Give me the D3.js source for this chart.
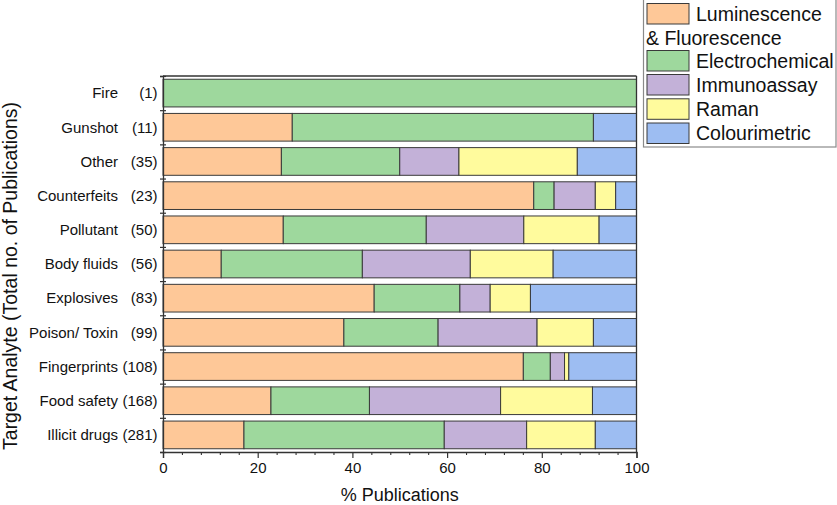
<!DOCTYPE html>
<html><head><meta charset="utf-8">
<script src="https://cdn.jsdelivr.net/npm/d3@7"></script>
<style>
html,body{margin:0;padding:0;background:#fff;}
svg{display:block;font-family:"Liberation Sans",Arial,sans-serif;}
</style></head>
<body>
<svg id="c" width="837" height="505"></svg>
<script>
const categories = ["Fire","Gunshot","Other","Counterfeits","Pollutant","Body fluids","Explosives","Poison/ Toxin","Fingerprints","Food safety","Illicit drugs"];
const totals = [1,11,35,23,50,56,83,99,108,168,281];
const luminescence   = [0,27.3,25.0,78.3,25.4,12.3,44.6,38.2,76.1,22.8,17.1];
const electrochemical= [100,63.6,25.0,4.3,30.2,29.8,18.1,19.9,5.7,20.8,42.3];
const immunoassay    = [0,0,12.5,8.7,20.6,22.8,6.4,20.9,3.0,27.7,17.4];
const raman          = [0,0,25.0,4.3,15.9,17.5,8.5,11.9,0.9,19.4,14.5];
const colourimetric  = [0,9.1,12.5,4.4,7.9,17.6,22.4,9.1,14.3,9.3,8.7];
const seriesKeys = ["lum","elec","imm","ram","col"];
const seriesNames = [["Luminescence","& Fluorescence"],["Electrochemical"],["Immunoassay"],["Raman"],["Colourimetric"]];
const colors = ["#FEC898","#9ED89D","#C3B1D8","#FFFB9D","#9DBDF2"];
const xTicks = [0,20,40,60,80,100];

const rows = categories.map((c,i)=>({cat:c, lum:luminescence[i], elec:electrochemical[i], imm:immunoassay[i], ram:raman[i], col:colourimetric[i]}));

const svg = d3.select("#c");
const L=163, R=636.5, T=76, B=452;
const x = d3.scaleLinear().domain([0,100]).range([L,R]);
const pad=0.19;
const y = d3.scaleBand().domain(categories).range([T,B]).paddingInner(pad).paddingOuter(pad/2);
const yb = d3.scaleLinear().domain([0,categories.length]).range([T,B]);

const stack = d3.stack().keys(seriesKeys)(rows);
const g = svg.append("g");
stack.forEach((s,si)=>{
  g.selectAll(null).data(s.filter(d=>d[1]-d[0]>0)).join("rect")
    .attr("x",d=>x(d[0])).attr("width",d=>x(d[1])-x(d[0]))
    .attr("y",d=>y(d.data.cat)).attr("height",y.bandwidth())
    .attr("fill",colors[si]).attr("stroke","#3a3a3a").attr("stroke-width",1);
});

// frame
svg.append("line").attr("x1",L).attr("x2",R).attr("y1",T).attr("y2",T).attr("stroke","#333").attr("stroke-width",1.3);
svg.append("line").attr("x1",R).attr("x2",R).attr("y1",T).attr("y2",B).attr("stroke","#333").attr("stroke-width",1.3);

// x axis
const xa = svg.append("g").attr("transform",`translate(0,${B})`)
  .call(d3.axisBottom(x).tickValues(xTicks).tickSize(6).tickPadding(4).tickFormat(d3.format("d")));
xa.select(".domain").attr("stroke","#333").attr("stroke-width",1.3);
xa.selectAll(".tick line").attr("stroke","#333").attr("stroke-width",1.2);
xa.selectAll("text").attr("font-size",15).attr("fill","#111").attr("font-family","Liberation Sans, Arial, sans-serif");
const xm = svg.append("g").attr("transform",`translate(0,${B})`)
  .call(d3.axisBottom(x).tickValues(d3.range(0,101,4).filter(v=>v%20!==0)).tickSize(3).tickFormat(""));
xm.select(".domain").remove();
xm.selectAll(".tick line").attr("stroke","#333").attr("stroke-width",1.1);

// y axis
const ya = svg.append("g").attr("transform",`translate(${L},0)`)
  .call(d3.axisLeft(yb).tickValues(d3.range(0,categories.length+1)).tickSize(3).tickFormat(""));
ya.select(".domain").attr("stroke","#333").attr("stroke-width",1.3);
ya.selectAll(".tick line").attr("x1",-3).attr("x2",3).attr("stroke","#333").attr("stroke-width",1.2);

// category labels
svg.append("g").selectAll("text").data(categories).join("text")
  .attr("x",118).attr("y",d=>y(d)+y.bandwidth()/2).attr("dy","0.35em")
  .attr("text-anchor","end").attr("font-size",15).attr("fill","#111").text(d=>d);
svg.append("g").selectAll("text").data(totals).join("text")
  .attr("x",157.5).attr("y",(d,i)=>y(categories[i])+y.bandwidth()/2).attr("dy","0.35em")
  .attr("text-anchor","end").attr("font-size",15).attr("fill","#111").text(d=>`(${d})`);

// axis titles
svg.append("text").attr("x",(L+R)/2).attr("y",501).attr("text-anchor","middle")
  .attr("font-size",18).attr("fill","#111").text("% Publications");
svg.append("text").attr("transform",`translate(17,${(T+B)/2+12}) rotate(-90)`).attr("text-anchor","middle")
  .attr("font-size",19.5).attr("fill","#111").text("Target Analyte (Total no. of Publications)");

// legend
const lg = svg.append("g");
lg.append("rect").attr("x",643.5).attr("y",-1).attr("width",192.5).attr("height",148)
  .attr("fill","#fff").attr("stroke","#8a8a8a").attr("stroke-width",1.2);
const swY = [3.5,50.5,74.5,98.8,123];
seriesNames.forEach((nm,i)=>{
  lg.append("rect").attr("x",647).attr("y",swY[i]).attr("width",42).attr("height",20.5)
    .attr("fill",colors[i]).attr("stroke","#3a3a3a").attr("stroke-width",1);
  lg.append("text").attr("x",696).attr("y",swY[i]+10.25).attr("dy","0.35em")
    .attr("font-size",19.5).attr("fill","#111").text(nm[0]);
  if(nm[1]) lg.append("text").attr("x",646).attr("y",swY[i]+10.25+24).attr("dy","0.35em")
    .attr("font-size",19.5).attr("fill","#111").text(nm[1]);
});
</script>
</body></html>
